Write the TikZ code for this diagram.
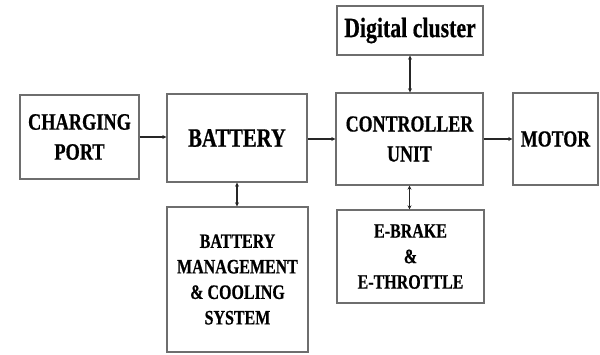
\documentclass[tikz,border=0pt]{standalone}
\usepackage{fontspec}
\setmainfont[FakeStretch=0.78,BoldFeatures={FakeBold=0.6}]{Liberation Serif}
\usetikzlibrary{arrows.meta}
\definecolor{boxgray}{RGB}{110,110,110}
\begin{document}
\begin{tikzpicture}[x=1pt,y=-1pt,
  blk/.style={draw=boxgray,line width=1.3pt,inner sep=0pt,align=center,font=\bfseries},
  conn/.style={draw=black!85,line width=1.2pt,-{Stealth[length=4pt,width=4pt]}},
  biconn/.style={draw=black!85,line width=1.2pt,{Stealth[length=4pt,width=4pt]}-{Stealth[length=4pt,width=4pt]}}]
\useasboundingbox (0,0) rectangle (600,354);
\node[blk,minimum width=119pt,minimum height=84pt,font=\bfseries\fontsize{23.5}{30}\selectfont] (cp) at (79.5,137) {CHARGING\\PORT};
\node[blk,minimum width=140pt,minimum height=88pt,font=\bfseries\fontsize{26.5}{30}\selectfont] (bat) at (237,138) {BATTERY};
\node[blk,minimum width=147pt,minimum height=92pt,font=\bfseries\fontsize{23}{30}\selectfont] (ctl) at (409.5,139) {CONTROLLER\\UNIT};
\node[blk,minimum width=146pt,minimum height=49pt,font=\bfseries\fontsize{28}{30}\selectfont] (dc) at (410,30.5) {Digital cluster};
\node[blk,minimum width=85pt,minimum height=92pt,font=\bfseries\fontsize{23}{30}\selectfont] (mot) at (555.5,139) {MOTOR};
\node[blk,minimum width=141pt,minimum height=145pt,font=\bfseries\fontsize{20.5}{25.5}\selectfont] (bms) at (237.5,279.5) {BATTERY\\MANAGEMENT\\\& COOLING\\SYSTEM};
\node[blk,minimum width=147pt,minimum height=93pt,font=\bfseries\fontsize{20.5}{25.5}\selectfont] (eb) at (410.5,256.5) {E-BRAKE\\\&\\E-THROTTLE};
\draw[conn] (cp.east) -- (cp.east -| bat.west);
\draw[conn] (bat.east |- ctl.west) -- (ctl.west);
\draw[conn] (ctl.east) -- (mot.west);
\draw[biconn] (bat.south) -- (bat.south |- bms.north);
\draw[biconn] (dc.south) -- (dc.south |- ctl.north);
\draw[biconn] (ctl.south) -- (ctl.south |- eb.north);
\end{tikzpicture}
\end{document}
